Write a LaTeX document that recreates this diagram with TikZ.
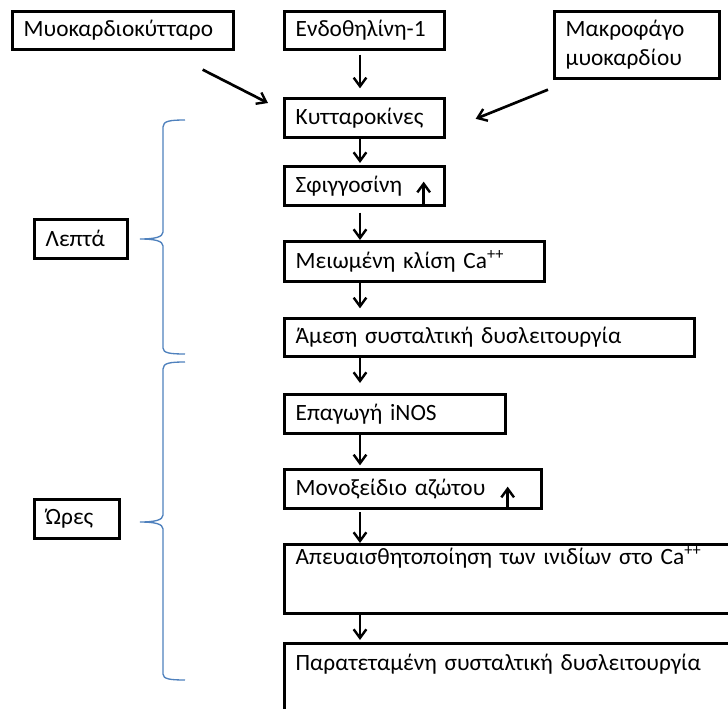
\documentclass[tikz,border=0pt]{standalone}
\usepackage{fontspec}
\setmainfont{Carlito}
\usepackage{tikz}
\usetikzlibrary{arrows.meta}
\definecolor{bracecol}{HTML}{4F81BD}

\begin{document}
\begin{tikzpicture}[x=0.75pt,y=-0.75pt,
  >={Straight Barb[length=6.5pt,width=9.5pt,line width=1.8pt]},
  flowbox/.style={draw,line width=2pt,anchor=north west,align=left,inner xsep=8.5pt,inner ysep=0pt,font=\fontsize{17.5}{21.75}\selectfont},
  flow/.style={->,line width=2pt},
  brace/.style={draw=bracecol,line width=1pt}]
\clip (0,0) rectangle (728,709);
% top row
\node[flowbox,text width=148.75pt,minimum height=28.5pt] (myo) at (11,10) {Μυοκαρδιοκύτταρο};
\node[flowbox,text width=103pt,minimum height=28.5pt] (endo) at (283,10) {Ενδοθηλίνη-1};
\node[flowbox,text width=106.75pt,minimum height=50.25pt] (makro) at (553,10) {Μακροφάγο\\μυοκαρδίου};
% main column
\node[flowbox,text width=103pt,minimum height=29.25pt] (kutt) at (283,97) {Κυτταροκίνες};
\node[flowbox,text width=103pt,minimum height=29.25pt] (sfig) at (283,165) {Σφιγγοσίνη};
\node[flowbox,text width=178pt,minimum height=30pt] (meiom) at (283,240) {Μειωμένη κλίση Ca\textsuperscript{++}};
\node[flowbox,text width=290.5pt,minimum height=28.5pt] (amesi) at (283,317) {Άμεση συσταλτική δυσλειτουργία};
\node[flowbox,text width=148.75pt,minimum height=29.25pt] (epag) at (283,393) {Επαγωγή iNOS};
\node[flowbox,text width=175.75pt,minimum height=29.25pt] (mono) at (283,468) {Μονοξείδιο αζώτου};
\node[flowbox,text width=328pt,inner ysep=3pt,text height=12pt,text depth=33.75pt] (apeu) at (283,543) {Απευαισθητοποίηση των ινιδίων στο Ca\textsuperscript{++}};
\node[flowbox,text width=328pt,inner ysep=3pt,text height=17pt,text depth=52pt] (parat) at (283,642) {Παρατεταμένη συσταλτική δυσλειτουργία};
% time labels
\node[flowbox,text width=52.75pt,minimum height=29.25pt] (lepta) at (33,218) {Λεπτά};
\node[flowbox,text width=46.75pt,minimum height=29.25pt] (ores) at (33,498) {Ώρες};

\coordinate (ax) at (360,0);
\draw[flow,shorten <=3pt,shorten >=6.5pt] (endo.south -| ax) -- (kutt.north -| ax);
\draw[flow,shorten >=1.5pt] (kutt.south -| ax) -- (sfig.north -| ax);
\draw[flow,shorten <=4.5pt] (sfig.south -| ax) -- (meiom.north -| ax);
\draw[flow,shorten >=6.5pt] (meiom.south -| ax) -- (amesi.north -| ax);
\draw[flow,shorten >=7.5pt] (amesi.south -| ax) -- (epag.north -| ax);
\draw[flow,shorten >=2pt] (epag.south -| ax) -- (mono.north -| ax);
\draw[flow,shorten <=2pt] (mono.south -| ax) -- (apeu.north -| ax);
\draw[flow,shorten >=1.5pt] (apeu.south -| ax) -- (parat.north -| ax);
\draw[flow] ([shift={(-32,19)}]myo.south east) -- ([shift={(-15,6)}]kutt.north west);
\draw[flow] ([shift={(-5,10)}]makro.south west) -- ([shift={(30,1)}]kutt.east);
% up arrows
\draw[flow] ([xshift=-16.5pt]sfig.south east) -- ++(0,-25);
\draw[flow] ([xshift=-26.25pt]mono.south east) -- ++(0,-23);

% braces
\draw[brace] (185,120) .. controls (170,120) and (163,121) .. (163,127) -- (163,232)
  .. controls (163,237) and (155,239) .. (140,239) .. controls (155,239) and (163,241) .. (163,246)
  -- (163,348) .. controls (163,353) and (170,354) .. (185,354);
\draw[brace] (185,362) .. controls (170,362) and (163,363) .. (163,369) -- (163,515)
  .. controls (163,520) and (155,522) .. (140,522) .. controls (155,522) and (163,524) .. (163,529)
  -- (163,674) .. controls (163,679) and (170,680) .. (185,680);
\end{tikzpicture}
\end{document}
